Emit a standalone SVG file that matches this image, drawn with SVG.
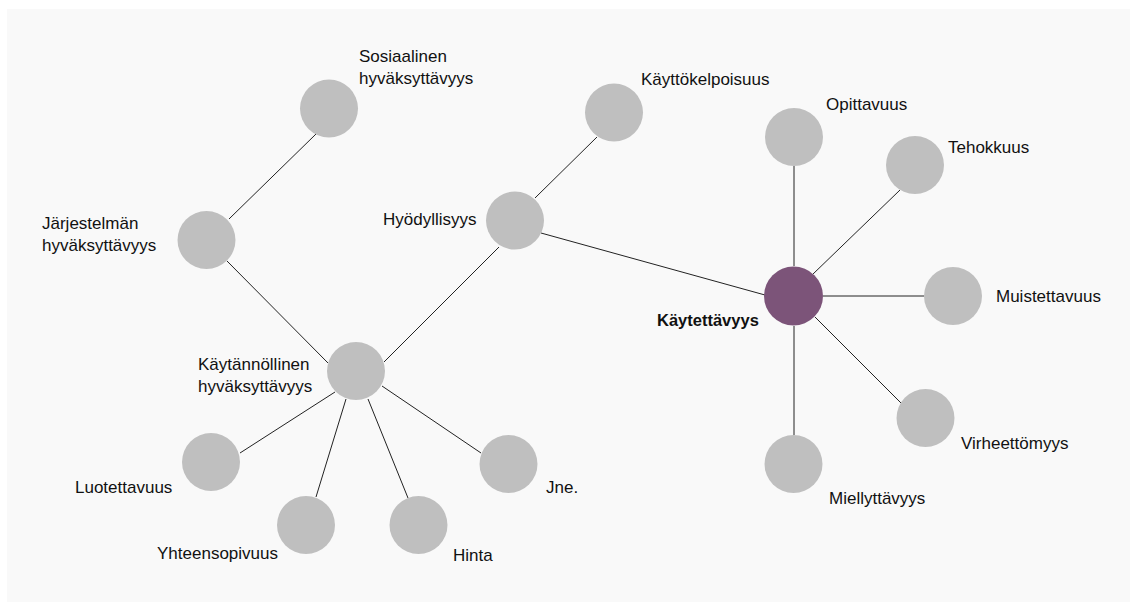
<svg xmlns="http://www.w3.org/2000/svg" width="1130" height="602" viewBox="0 0 1130 602">
<style>
.n{fill:#bfbfbf}
.c{fill:#7c5479}
.t{font-family:"Liberation Sans",Arial,sans-serif;font-size:17px;fill:#111}
.b{font-weight:bold;font-size:16.5px}
.e line{stroke:#222;stroke-width:1}
</style>
<rect x="0" y="0" width="1130" height="602" fill="#ffffff"/>
<rect x="7" y="9" width="1123" height="593" fill="#f9f9f9"/>
<g id="connectors" class="e">
<line x1="229" y1="219" x2="316" y2="134"/>
<line x1="227" y1="261" x2="328" y2="363"/>
<line x1="384" y1="362" x2="499" y2="247"/>
<line x1="535" y1="198" x2="597" y2="137"/>
<line x1="541" y1="233" x2="765" y2="295"/>
<line x1="794" y1="166" x2="794" y2="266"/>
<line x1="900" y1="190" x2="812" y2="275"/>
<line x1="823" y1="296" x2="924" y2="296"/>
<line x1="815" y1="317" x2="901" y2="403"/>
<line x1="794" y1="326" x2="794" y2="435"/>
<line x1="240" y1="453" x2="335" y2="392"/>
<line x1="316" y1="497" x2="346" y2="399"/>
<line x1="408" y1="498" x2="368" y2="399"/>
<line x1="481" y1="453" x2="382" y2="386"/>
</g>
<g id="sosiaalinen"><circle class="n" cx="329" cy="108.5" r="29"/><text class="t" x="359" y="62">Sosiaalinen</text><text class="t" x="359" y="83.5">hyväksyttävyys</text></g>
<g id="jarjestelman"><circle class="n" cx="206.5" cy="240" r="29"/><text class="t" x="42" y="229">Järjestelmän</text><text class="t" x="42" y="251">hyväksyttävyys</text></g>
<g id="kaytannollinen"><circle class="n" cx="356" cy="371" r="29"/><text class="t" x="198" y="370">Käytännöllinen</text><text class="t" x="198" y="391.5">hyväksyttävyys</text></g>
<g id="hyodyllisyys"><circle class="n" cx="515" cy="220.5" r="29"/><text class="t" x="383" y="225">Hyödyllisyys</text></g>
<g id="kayttokelpoisuus"><circle class="n" cx="614" cy="112.5" r="29"/><text class="t" x="641" y="85">Käyttökelpoisuus</text></g>
<g id="kaytettavyys"><circle class="c" cx="793.5" cy="296" r="29.5"/><text class="t b" x="657" y="326">Käytettävyys</text></g>
<g id="opittavuus"><circle class="n" cx="794" cy="137" r="29"/><text class="t" x="826" y="110">Opittavuus</text></g>
<g id="tehokkuus"><circle class="n" cx="915" cy="165" r="29"/><text class="t" x="948" y="153">Tehokkuus</text></g>
<g id="muistettavuus"><circle class="n" cx="953" cy="296" r="29"/><text class="t" x="996" y="302">Muistettavuus</text></g>
<g id="virheettomyys"><circle class="n" cx="925.5" cy="418" r="29"/><text class="t" x="961" y="449">Virheettömyys</text></g>
<g id="miellyttavyys"><circle class="n" cx="793.5" cy="464" r="29"/><text class="t" x="829" y="504">Miellyttävyys</text></g>
<g id="luotettavuus"><circle class="n" cx="211" cy="462" r="29"/><text class="t" x="75" y="492.5">Luotettavuus</text></g>
<g id="yhteensopivuus"><circle class="n" cx="306" cy="525" r="29"/><text class="t" x="157" y="559">Yhteensopivuus</text></g>
<g id="hinta"><circle class="n" cx="418.5" cy="525" r="29"/><text class="t" x="453" y="560.5">Hinta</text></g>
<g id="jne"><circle class="n" cx="508.5" cy="464" r="29"/><text class="t" x="546" y="493">Jne.</text></g>
</svg>
